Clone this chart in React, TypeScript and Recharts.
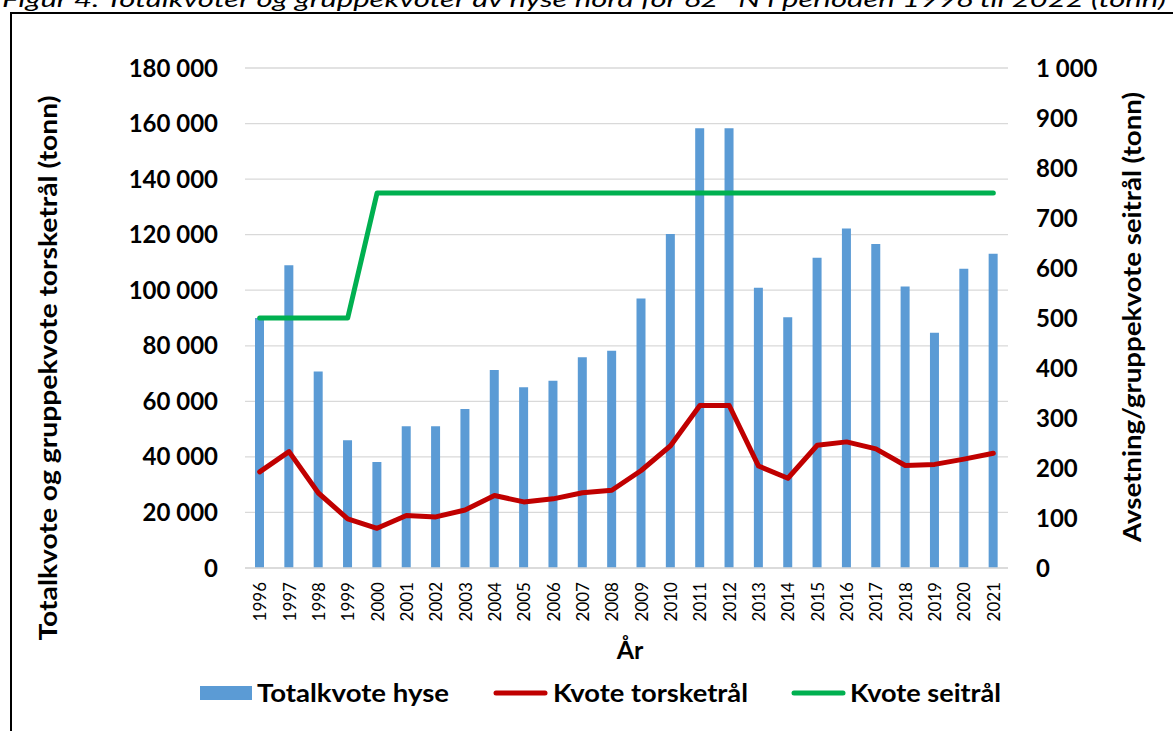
import React from 'react';
import {
  ComposedChart,
  Bar,
  Line,
  XAxis,
  YAxis,
  CartesianGrid,
} from 'recharts';

// years on the x axis
const years = [
  '1996', '1997', '1998', '1999', '2000', '2001', '2002', '2003', '2004',
  '2005', '2006', '2007', '2008', '2009', '2010', '2011', '2012', '2013',
  '2014', '2015', '2016', '2017', '2018', '2019', '2020', '2021',
];

// Totalkvote hyse (left axis, tonn)
const totalkvoteHyse = [
  90000, 109000, 70700, 46000, 38200, 51000, 51000, 57200, 71300, 65100,
  67400, 75900, 78200, 97000, 120200, 158300, 158300, 100900, 90300, 111700,
  122200, 116600, 101300, 84700, 107700, 113100,
];

// Kvote torsketrål (left axis, tonn)
const kvoteTorsketral = [
  34600, 41900, 27000, 17700, 14300, 18900, 18400, 20900, 26100, 23800,
  24900, 27100, 28000, 35100, 44000, 58500, 58500, 36700, 32300, 44200,
  45400, 42900, 36900, 37300, 39200, 41300,
];

// Kvote seitrål (right axis, tonn)
const kvoteSeitral = [
  500, 500, 500, 500, 750, 750, 750, 750, 750, 750, 750, 750, 750, 750, 750,
  750, 750, 750, 750, 750, 750, 750, 750, 750, 750, 750,
];

const leftTicks = [0, 20000, 40000, 60000, 80000, 100000, 120000, 140000, 160000, 180000];
const rightTicks = [0, 100, 200, 300, 400, 500, 600, 700, 800, 900, 1000];

const BLUE = '#5B9BD5';
const RED = '#C00000';
const GREEN = '#00B050';
const FONT = 'Lato, "Open Sans", sans-serif';

const fmt = (v: number) => String(v).replace(/\B(?=(\d{3})+(?!\d))/g, ' ');

const YearTick = (props: any) => {
  const { x, y, payload } = props;
  return (
    <text
      x={x}
      y={y}
      transform={`rotate(-90 ${x} ${y})`}
      textAnchor='end'
      dominantBaseline='central'
      fontSize={17}
      fontFamily={FONT}
      fill='#000'
    >
      {payload.value}
    </text>
  );
};

export default function App() {
  const data = years.map((year, i) => ({
    year,
    hyse: totalkvoteHyse[i],
    torsk: kvoteTorsketral[i],
    sei: kvoteSeitral[i],
  }));

  const axisTick = { fontSize: 24, fontWeight: 700, fontFamily: FONT, fill: '#000' };

  return (
    <div
      style={{
        position: 'relative',
        width: 1173,
        height: 731,
        overflow: 'hidden',
        background: '#fff',
      }}
    >
      <style>{`body{margin:0}`}</style>
      <div
        style={{
          position: 'absolute',
          left: 10,
          top: 12,
          width: 1200,
          height: 800,
          border: '2px solid #000',
          boxSizing: 'border-box',
        }}
      />
      <div style={{ position: 'absolute', left: 0, top: 0 }}>
        <ComposedChart
          width={1173}
          height={731}
          data={data}
          margin={{ top: 68, right: 0, bottom: 103, left: 0 }}
        >
          <CartesianGrid
            yAxisId='left'
            vertical={false}
            stroke='#D9D9D9'
            strokeWidth={1.3}
          />
          <XAxis
            dataKey='year'
            height={60}
            interval={0}
            tickLine={false}
            axisLine={{ stroke: '#D9D9D9', strokeWidth: 1.3 }}
            tickSize={0}
            tickMargin={14}
            tick={<YearTick />}
          />
          <YAxis
            yAxisId='left'
            width={245}
            domain={[0, 180000]}
            ticks={leftTicks}
            tickFormatter={fmt}
            axisLine={false}
            tickLine={false}
            tickSize={0}
            tickMargin={27}
            tick={axisTick}
          />
          <YAxis
            yAxisId='right'
            orientation='right'
            width={165}
            domain={[0, 1000]}
            ticks={rightTicks}
            tickFormatter={fmt}
            axisLine={false}
            tickLine={false}
            tickSize={0}
            tickMargin={28}
            tick={axisTick}
          />
          <Bar
            yAxisId='left'
            dataKey='hyse'
            fill={BLUE}
            barSize={9}
            isAnimationActive={false}
          />
          <Line
            yAxisId='left'
            type='linear'
            dataKey='torsk'
            stroke={RED}
            strokeWidth={5}
            strokeLinecap='round'
            strokeLinejoin='round'
            dot={false}
            activeDot={false}
            isAnimationActive={false}
          />
          <Line
            yAxisId='right'
            type='linear'
            dataKey='sei'
            stroke={GREEN}
            strokeWidth={5}
            strokeLinecap='round'
            strokeLinejoin='round'
            dot={false}
            activeDot={false}
            isAnimationActive={false}
          />
        </ComposedChart>
      </div>
      <svg
        width={1173}
        height={731}
        style={{ position: 'absolute', left: 0, top: 0, pointerEvents: 'none' }}
        fontFamily={FONT}
      >
        <text
          x={2}
          y={7}
          fontSize={22}
          fontStyle='italic'
          textLength={1164}
          lengthAdjust='spacingAndGlyphs'
        >
          Figur 4. Totalkvoter og gruppekvoter av hyse nord for 62° N i perioden 1996 til 2022 (tonn)
        </text>
        <text
          x={47}
          y={368}
          fontSize={25}
          fontWeight={700}
          textAnchor='middle'
          dominantBaseline='central'
          transform='rotate(-90 47 368)'
          textLength={545}
          lengthAdjust='spacingAndGlyphs'
        >
          Totalkvote og gruppekvote torsketrål (tonn)
        </text>
        <text
          x={1131}
          y={317}
          fontSize={25}
          fontWeight={700}
          textAnchor='middle'
          dominantBaseline='central'
          transform='rotate(-90 1131 317)'
          textLength={450}
          lengthAdjust='spacingAndGlyphs'
        >
          Avsetning/gruppekvote seitrål (tonn)
        </text>
        <text x={630} y={659} fontSize={25} fontWeight={700} textAnchor='middle'>
          År
        </text>
        <rect x={200} y={686} width={52} height={14} fill={BLUE} />
        <text x={257} y={702} fontSize={25} fontWeight={700} textLength={192} lengthAdjust='spacingAndGlyphs'>
          Totalkvote hyse
        </text>
        <line x1={496} y1={693} x2={545} y2={693} stroke={RED} strokeWidth={5} strokeLinecap='round' />
        <text x={553} y={702} fontSize={25} fontWeight={700} textLength={195} lengthAdjust='spacingAndGlyphs'>
          Kvote torsketrål
        </text>
        <line x1={794} y1={693} x2={843} y2={693} stroke={GREEN} strokeWidth={5} strokeLinecap='round' />
        <text x={850} y={702} fontSize={25} fontWeight={700} textLength={151} lengthAdjust='spacingAndGlyphs'>
          Kvote seitrål
        </text>
      </svg>
    </div>
  );
}
